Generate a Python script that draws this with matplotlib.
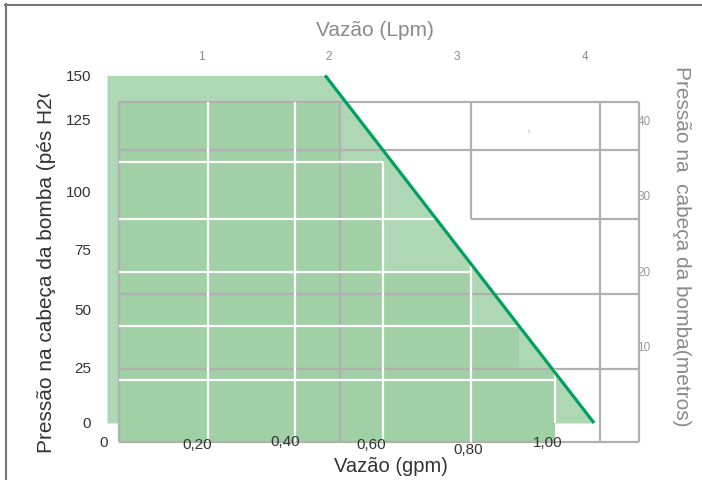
import matplotlib
matplotlib.use("Agg")
import numpy as np
import matplotlib.pyplot as plt
from matplotlib.lines import Line2D
from matplotlib.transforms import Bbox

plt.rcParams["font.family"] = ["Liberation Sans", "DejaVu Sans"]

# ============================================================
# DADOS (gpm / pés H2O)
# ============================================================
curve_gpm = [0.47, 1.09]          # curva da bomba
curve_ft = [150.5, 0.0]
area_gpm = [-0.033, 0.47, 1.09]   # área clara sob a curva
area_ft = [150.5, 150.5, 0.0]

step_edges = [-0.005, 0.504, 0.603, 0.806, 0.917, 1.0]   # degraus escuros
step_tops = [139.0, 113.0, 65.4, 42.0, 23.4]
step_base = -8.2

# grade branca (gpm / pés)
white_v = [0.2, 0.4, 0.603, 0.806, 1.0]
white_v_top = [139.0, 139.0, 113.0, 69.3, 23.4]
white_v_bot = [-8.2, -8.2, -8.2, -8.2, 0.0]
white_h = [113.0, 88.3, 65.4, 42.0, 18.6]
white_h_end = [0.603, 0.726, 0.806, 0.917, 1.0]

# grade cinza
gray_v = [-0.005, 0.504, 0.806, 1.104, 1.194]
gray_v_bot = [-8.2, -8.2, 88.3, -8.2, -8.2]
gray_h = [139.0, 118.2, 88.3, 55.8, 23.4, -8.2]
gray_h_start = [-0.005, -0.005, 0.806, -0.005, -0.005, -0.005]

# rótulos
ft_labels = ["150", "125", "100", "75", "50", "25", "0"]
ft_label_pos = [150, 131, 100, 75, 49, 24, 0]
gpm_labels = ["0", "0,20", "0,40", "0,60", "0,80", "1,00"]
gpm_label_x = [-0.04, 0.175, 0.378, 0.576, 0.799, 0.984]
gpm_label_y = [-8.2, -9.1, -7.8, -9.1, -11.3, -8.2]
lpm_ticks = [1, 2, 3, 4]
m_ticks = [40, 30, 20, 10]

LIGHT = "#aed8b4"
DARK = "#a1d0a6"
GREEN = "#00a05e"
GRAY = "#b0b0b0"

fig = plt.figure(figsize=(7.02, 4.81), dpi=100)
ax = fig.add_axes([0, 0, 1, 1])
ax.set_xlim(-0.2795, 1.3389)
ax.set_ylim(-24.68, 183.55)
ax.axis("off")

# áreas
ax.fill_between(area_gpm, 0, area_ft, color=LIGHT, lw=0, zorder=1)
steps = ax.stairs(step_tops, step_edges, baseline=step_base, fill=True,
                  color=DARK, lw=0, zorder=2)

# grade cinza
for x, yb in zip(gray_v, gray_v_bot):
    ax.plot([x, x], [gray_h[0], yb], color=GRAY, lw=1.6, zorder=3,
            solid_capstyle="butt")
for y, xs in zip(gray_h, gray_h_start):
    ax.plot([xs, gray_v[-1]], [y, y], color=GRAY, lw=1.6, zorder=3,
            solid_capstyle="butt")

# grade branca
for x, yt, yb in zip(white_v, white_v_top, white_v_bot):
    ax.plot([x, x], [yt, yb], color="white", lw=1.6, zorder=4,
            solid_capstyle="butt")
for y, xe in zip(white_h, white_h_end):
    ax.plot([step_edges[0], xe], [y, y], color="white", lw=1.6, zorder=4,
            solid_capstyle="butt")

# curva
ax.plot(curve_gpm, curve_ft, color=GREEN, lw=2.3, zorder=6,
        solid_capstyle="butt")

# rótulos eixo esquerdo (pés)
for lab, y in zip(ft_labels, ft_label_pos):
    ax.text(-0.069, y, lab, ha="right", va="center", fontsize=11,
            color="#333333", zorder=5)

# rótulos eixo inferior (gpm)
for lab, x, y in zip(gpm_labels, gpm_label_x, gpm_label_y):
    ax.text(x, y, lab, ha="center", va="center", fontsize=11,
            color="#333333", zorder=5)

# rótulos eixo superior (Lpm)
for t in lpm_ticks:
    ax.text(0.295 * t - 0.111, 158.9, str(t), ha="center", va="center",
            fontsize=8.5, color="#8a8a8a")

# rótulos eixo direito (metros)
for t in m_ticks:
    ax.text(1.1896, t * 3.27, str(t), ha="left", va="center",
            fontsize=8.5, color="#999999", zorder=2.5)

ax.text(0.938, 126.5, "ı", ha="center", va="center", fontsize=5,
        color="#aaaaaa")

# títulos
ax.text(0.585, 170.2, "Vazão (Lpm)", ha="center", va="center",
        fontsize=15, color="#8a8a8a")
ax.text(0.622, -18.6, "Vazão (gpm)", ha="center", va="center",
        fontsize=14.5, color="#333333")
ylab = fig.text(47 / 702, 1 - 264 / 481, "Pressão na cabeça da bomba (pés H2O)",
                rotation=90, ha="center", va="center", fontsize=15,
                color="#333333")
ylab.set_clip_box(Bbox.from_extents(0, 0, 702, 481 - 95))
ylab.set_clip_on(True)
fig.text(682 / 702, 1 - 246.5 / 481, "Pressão na  cabeça da bomba(metros)",
         rotation=-90, ha="center", va="center", fontsize=15,
         color="#8a8a8a")

# moldura (topo e esquerda)
fig.add_artist(Line2D([5 / 702, 1], [1 - 5.5 / 481, 1 - 5.5 / 481],
                      color="#777777", lw=1.5))
fig.add_artist(Line2D([5.5 / 702, 5.5 / 702], [0, 1 - 5 / 481],
                      color="#777777", lw=1.5))

fig.savefig("out.png", dpi=100)
